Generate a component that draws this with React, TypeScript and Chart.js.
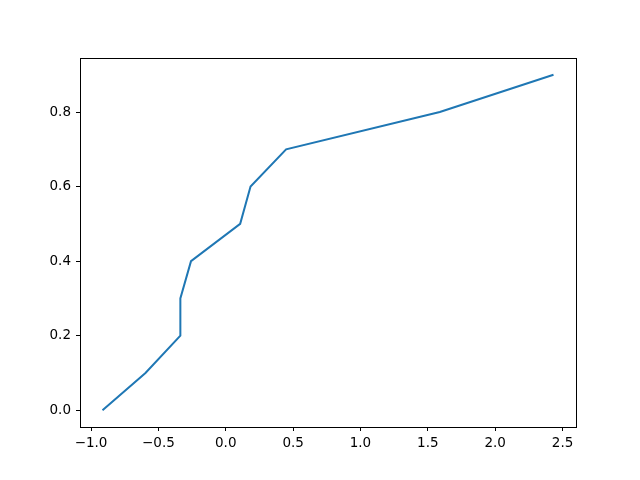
import React, { useEffect, useRef } from "react";
import { Chart, registerables } from "chart.js";

Chart.register(...registerables);

const xValues = [-0.915, -0.596, -0.337, -0.337, -0.258, 0.107, 0.184, 0.448, 1.589, 2.433];
const yValues = [0.0, 0.1, 0.2, 0.3, 0.4, 0.5, 0.6, 0.7, 0.8, 0.9];
const xTicks = [-1.0, -0.5, 0.0, 0.5, 1.0, 1.5, 2.0, 2.5];
const yTicks = [0.0, 0.2, 0.4, 0.6, 0.8];

const fmt = (v: number) => v.toFixed(1).replace("-", "\u2212");

const framePlugin = {
  id: "frame",
  afterDraw(chart: any) {
    const { ctx, chartArea } = chart;
    ctx.save();
    ctx.strokeStyle = "#000";
    ctx.lineWidth = 1;
    ctx.strokeRect(
      Math.round(chartArea.left) + 0.5,
      Math.round(chartArea.top) + 0.5,
      Math.round(chartArea.right - chartArea.left),
      Math.round(chartArea.bottom - chartArea.top)
    );
    ctx.restore();
  },
};

export default function App() {
  const ref = useRef<HTMLCanvasElement | null>(null);
  useEffect(() => {
    if (!ref.current) return;
    const font = { family: "'DejaVu Sans', sans-serif", size: 13.5 };
    const chart = new Chart(ref.current, {
      type: "line",
      data: {
        datasets: [
          {
            data: xValues.map((x, i) => ({ x, y: yValues[i] })),
            borderColor: "#1f77b4",
            borderWidth: 2,
            pointRadius: 0,
            tension: 0,
            fill: false,
          },
        ],
      },
      options: {
        animation: false,
        responsive: false,
        devicePixelRatio: 1,
        layout: { padding: { left: 0, top: 58, right: 64, bottom: 0 } },
        plugins: { legend: { display: false }, tooltip: { enabled: false } },
        scales: {
          x: {
            type: "linear",
            min: -1.082,
            max: 2.6,
            afterBuildTicks: (s: any) => {
              s.ticks = xTicks.map((v) => ({ value: v }));
            },
            afterFit: (s: any) => {
              s.height = 53;
            },
            ticks: { color: "#000", font, padding: 4, maxRotation: 0, callback: (v: any) => fmt(Number(v)) },
            grid: { display: true, drawOnChartArea: false, drawTicks: true, tickLength: 4, color: "#000" },
            border: { display: false },
          },
          y: {
            type: "linear",
            min: -0.045,
            max: 0.945,
            afterBuildTicks: (s: any) => {
              s.ticks = yTicks.map((v) => ({ value: v }));
            },
            afterFit: (s: any) => {
              s.width = 80;
            },
            ticks: { color: "#000", font, padding: 5, callback: (v: any) => fmt(Number(v)) },
            grid: { display: true, drawOnChartArea: false, drawTicks: true, tickLength: 4, color: "#000" },
            border: { display: false },
          },
        },
      },
      plugins: [framePlugin],
    });
    return () => chart.destroy();
  }, []);
  return (
    <div style={{ position: "fixed", left: 0, top: 0, width: 640, height: 480, background: "#fff" }}>
      <canvas ref={ref} width={640} height={480} style={{ width: 640, height: 480 }} />
    </div>
  );
}
